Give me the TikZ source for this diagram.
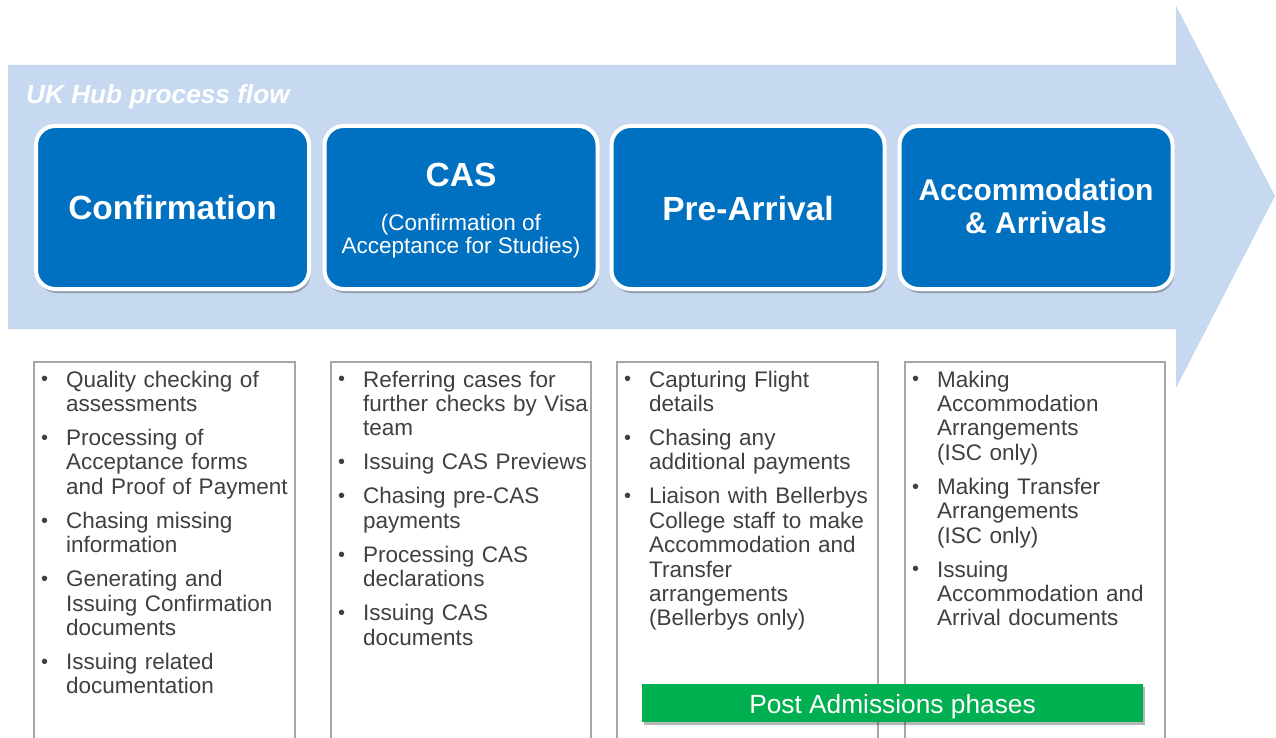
\documentclass[tikz,border=0pt]{standalone}
\usepackage{fontspec}
\setmainfont{Liberation Sans}
\usetikzlibrary{shadows}
\definecolor{arrowblue}{HTML}{C6D9F0}
\definecolor{boxblue}{HTML}{0070C0}
\definecolor{txtgray}{HTML}{404040}
\definecolor{colline}{HTML}{A6A6A6}
\definecolor{postgreen}{HTML}{00B050}
\newcommand\bulletmark{\makebox[28pt][l]{\hspace{3pt}\raisebox{1.2pt}{\fontsize{20}{20}\selectfont\textbullet}}}
\newcommand\bfirst{\setlength\parskip{0pt}\hangindent=28pt\hangafter=1\noindent\bulletmark\setlength\parskip{9.6pt}\strut}
\newcommand\bitem{\par\hangindent=28pt\hangafter=1\noindent\bulletmark}
\begin{document}
\begin{tikzpicture}[x=1pt,y=-1pt,
  phase/.style={rounded corners=19pt, fill=boxblue, draw=white, line width=4pt,
    minimum width=273pt, minimum height=163pt, inner sep=0pt,
    drop shadow={shadow xshift=1.5pt, shadow yshift=-4pt, opacity=0.35, fill=black!80}},
  bigtitle/.style={text=white, font=\fontsize{33.5}{36}\selectfont\bfseries, anchor=base, inner sep=0pt},
  midtitle/.style={text=white, font=\fontsize{30}{32}\selectfont\bfseries, anchor=base, inner sep=0pt},
  subtitle/.style={text=white, font=\fontsize{22.5}{24}\selectfont, anchor=base, inner sep=0pt},
  coltext/.style={text=txtgray, font=\fontsize{22.5}{24.4}\selectfont, anchor=north west,
    inner sep=0pt, text width=262pt},
  colframe/.style={draw=colline, line width=1.2pt},
  greenbar/.style={fill=postgreen, minimum width=501pt, minimum height=38pt, inner sep=0pt,
    drop shadow={shadow xshift=1.5pt, shadow yshift=-3pt, opacity=0.35, fill=black!80}}
]
\clip (0,0) rectangle (1276,738);
\fill[white] (0,0) rectangle (1276,738);
% big arrow
\fill[arrowblue] (8,65) -- (1176,65) -- (1176,6) -- (1275,196) -- (1176,388) -- (1176,329) -- (8,329) -- cycle;
\node[text=white, font=\fontsize{26.2}{28}\selectfont\bfseries\itshape, anchor=base west, inner sep=0pt] (hub) at (26,104) {UK Hub process flow};

% phase boxes
\node[phase] (conf) at (172.5,207.5) {};
\node[phase] (cas) at (461,207.5) {};
\node[phase] (pre) at (748,207.5) {};
\node[phase] (acc) at (1036,207.5) {};

\node[bigtitle] (conft) at (172.5,219) {Confirmation};
\node[bigtitle] (cast) at (461,186) {CAS};
\node[subtitle] (cass1) at (461,230) {(Confirmation of};
\node[subtitle] (cass2) at (461,253.5) {Acceptance for Studies)};
\node[bigtitle] (pret) at (748,220) {Pre-Arrival};
\node[midtitle] (acct1) at (1036,200.7) {Accommodation};
\node[midtitle] (acct2) at (1036,233) {\& Arrivals};

% column frames
\draw[colframe] (34,760) -- (34,362) -- (295,362) -- (295,760);
\draw[colframe] (331,760) -- (331,362) -- (591,362) -- (591,760);
\draw[colframe] (617,760) -- (617,362) -- (878,362) -- (878,760);
\draw[colframe] (905,760) -- (905,362) -- (1165,362) -- (1165,760);

% column texts
\node[coltext] (c1) at (38,369.9) {\raggedright
\bfirst Quality checking of\newline assessments
\bitem Processing of\newline Acceptance forms\newline and Proof of Payment
\bitem Chasing missing\newline information
\bitem Generating and\newline Issuing Confirmation\newline documents
\bitem Issuing related\newline documentation\par};
\node[coltext] (c2) at (335,369.9) {\raggedright
\bfirst Referring cases for\newline further checks by Visa\newline team
\bitem Issuing CAS Previews
\bitem Chasing pre-CAS\newline payments
\bitem Processing CAS\newline declarations
\bitem Issuing CAS\newline documents\par};
\node[coltext] (c3) at (621,369.9) {\raggedright
\bfirst Capturing Flight\newline details
\bitem Chasing any\newline additional payments
\bitem Liaison with Bellerbys\newline College staff to make\newline Accommodation and\newline Transfer\newline arrangements\newline (Bellerbys only)\par};
\node[coltext] (c4) at (909,369.9) {\raggedright
\bfirst Making\newline Accommodation\newline Arrangements\newline (ISC only)
\bitem Making Transfer\newline Arrangements\newline (ISC only)
\bitem Issuing\newline Accommodation and\newline Arrival documents\par};

% green bar
\node[greenbar] (post) at (892.5,703) {};
\node[text=white, font=\fontsize{26.3}{28}\selectfont, anchor=base, inner sep=0pt] (postt) at (892.5,713.3) {Post Admissions phases};
\end{tikzpicture}
\end{document}
